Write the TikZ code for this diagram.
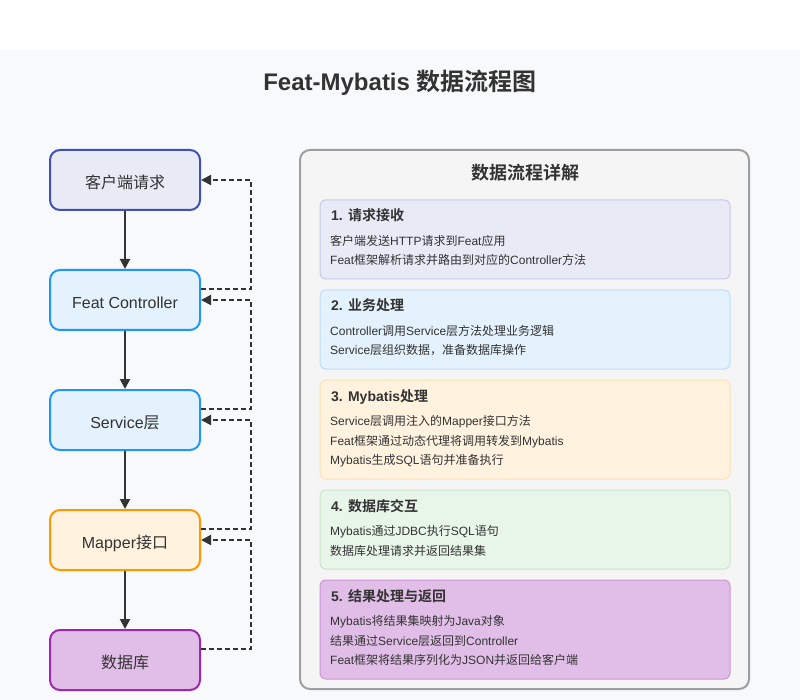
\documentclass[tikz,border=0pt]{standalone}
\usepackage{fontspec}
\setmainfont{Liberation Sans}
\newfontfamily\zhfont{Noto Sans CJK SC}[BoldFont={Noto Sans CJK SC Bold}]
\newcommand\zh[1]{{\zhfont #1}}
\usetikzlibrary{arrows.meta}
\definecolor{txt}{HTML}{333333}
\definecolor{bgc}{HTML}{F8F9FA}
\definecolor{fA}{HTML}{E8EAF6}\definecolor{dA}{HTML}{3F51B5}\definecolor{lA}{HTML}{C5CAE9}
\definecolor{fB}{HTML}{E3F2FD}\definecolor{dB}{HTML}{2196F3}\definecolor{lB}{HTML}{BBDEFB}
\definecolor{fC}{HTML}{FFF3E0}\definecolor{dC}{HTML}{FF9800}\definecolor{lC}{HTML}{FFE0B2}
\definecolor{fD}{HTML}{E8F5E9}\definecolor{lD}{HTML}{C8E6C9}
\definecolor{fE}{HTML}{E1BEE7}\definecolor{dE}{HTML}{9C27B0}\definecolor{lE}{HTML}{CE93D8}
\definecolor{panelf}{HTML}{F5F5F5}\definecolor{paneld}{HTML}{9E9E9E}
\tikzset{
  nodebox/.style={rectangle, rounded corners=10pt, minimum width=150pt, minimum height=60pt, line width=2pt, text=txt, font=\fontsize{16}{19}\selectfont, inner sep=0pt, text height=17pt, text depth=0pt},
  flow/.style={line width=2pt, draw=txt, -{Triangle[length=10pt,width=10pt]}},
  back/.style={line width=2pt, draw=txt, dash pattern=on 5pt off 3pt, -{Triangle[length=10pt,width=10pt]}},
  infobox/.style={rounded corners=6pt, line width=1pt},
  boxtitle/.style={anchor=base west, inner sep=0pt, text=txt, font=\fontsize{14}{17}\selectfont\bfseries},
  boxline/.style={anchor=base west, inner sep=0pt, text=txt, font=\fontsize{12}{14}\selectfont},
}
\begin{document}
\begin{tikzpicture}[x=1pt,y=-1pt]
\useasboundingbox (0,0) rectangle (800,700);
\fill[white] (0,0) rectangle (800,50);
\fill[bgc] (0,50) rectangle (800,700);
\node[anchor=base, inner sep=0pt, text=txt, font=\fontsize{24}{28}\selectfont\bfseries] (title) at (400,91) {Feat-Mybatis \zh{数据流程图}};

% left flow
\node[nodebox, fill=fA, draw=dA] (n1) at (125,180) {\zh{客户端请求}};
\node[nodebox, fill=fB, draw=dB] (n2) at (125,300) {Feat Controller};
\node[nodebox, fill=fB, draw=dB] (n3) at (125,420) {Service\zh{层}};
\node[nodebox, fill=fC, draw=dC] (n4) at (125,540) {Mapper\zh{接口}};
\node[nodebox, fill=fE, draw=dE] (n5) at (125,660) {\zh{数据库}};
\draw[flow] (n1.south) -- (n2.north);
\draw[flow] (n2.south) -- (n3.north);
\draw[flow] (n3.south) -- (n4.north);
\draw[flow] (n4.south) -- (n5.north);
\draw[back] ([yshift=-20pt]n2.north east) -- ++(50,0) |- (n1.east);
\draw[back] ([yshift=-20pt]n3.north east) -- ++(50,0) |- (n2.east);
\draw[back] ([yshift=-20pt]n4.north east) -- ++(50,0) |- (n3.east);
\draw[back] ([yshift=-20pt]n5.north east) -- ++(50,0) |- (n4.east);

% right panel
\draw[line width=2pt, draw=paneld, fill=panelf, rounded corners=10pt] (300,150) rectangle (749,689);
\node[anchor=base, inner sep=0pt, text=txt, font=\fontsize{18}{21}\selectfont\bfseries] (ptitle) at (525,179.5) {\zh{数据流程详解}};

\draw[infobox, fill=fA, draw=lA] (320,200) rectangle (730,279);
\node[boxtitle] (t1) at (331,221) {1. \zh{请求接收}};
\node[boxline] (t1a) at (330,245.5) {\zh{客户端发送}HTTP\zh{请求到}Feat\zh{应用}};
\node[boxline] (t1b) at (330,265) {Feat\zh{框架解析请求并路由到对应的}Controller\zh{方法}};

\draw[infobox, fill=fB, draw=lB] (320,290) rectangle (730,369);
\node[boxtitle] (t2) at (331,311) {2. \zh{业务处理}};
\node[boxline] (t2a) at (330,335.5) {Controller\zh{调用}Service\zh{层方法处理业务逻辑}};
\node[boxline] (t2b) at (330,355) {Service\zh{层组织数据，准备数据库操作}};

\draw[infobox, fill=fC, draw=lC] (320,380) rectangle (730,479);
\node[boxtitle] (t3) at (331,401) {3. Mybatis\zh{处理}};
\node[boxline] (t3a) at (330,425.5) {Service\zh{层调用注入的}Mapper\zh{接口方法}};
\node[boxline] (t3b) at (330,445) {Feat\zh{框架通过动态代理将调用转发到}Mybatis};
\node[boxline] (t3c) at (330,464.5) {Mybatis\zh{生成}SQL\zh{语句并准备执行}};

\draw[infobox, fill=fD, draw=lD] (320,490) rectangle (730,569);
\node[boxtitle] (t4) at (331,511) {4. \zh{数据库交互}};
\node[boxline] (t4a) at (330,535.5) {Mybatis\zh{通过}JDBC\zh{执行}SQL\zh{语句}};
\node[boxline] (t4b) at (330,555) {\zh{数据库处理请求并返回结果集}};

\draw[infobox, fill=fE, draw=lE] (320,580) rectangle (730,679);
\node[boxtitle] (t5) at (331,601) {5. \zh{结果处理与返回}};
\node[boxline] (t5a) at (330,625.5) {Mybatis\zh{将结果集映射为}Java\zh{对象}};
\node[boxline] (t5b) at (330,645) {\zh{结果通过}Service\zh{层返回到}Controller};
\node[boxline] (t5c) at (330,664.5) {Feat\zh{框架将结果序列化为}JSON\zh{并返回给客户端}};
\end{tikzpicture}
\end{document}
